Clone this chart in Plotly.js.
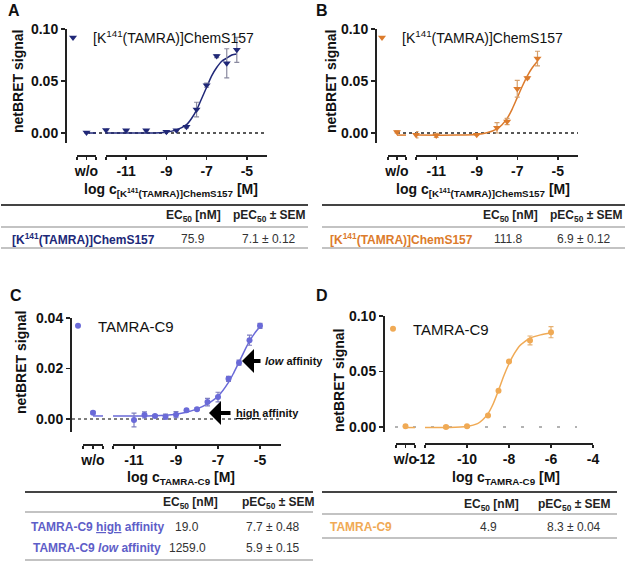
<!DOCTYPE html>
<html>
<head>
<meta charset="utf-8">
<script src="https://cdn.plot.ly/plotly-3.0.1.min.js"></script>
<style>html,body{margin:0;padding:0;background:#fff;}#chart{width:630px;height:562px;}</style>
</head>
<body>
<div id="chart"></div>
<script>
// ---------------- DATA ----------------
// Panel A: [K141(TAMRA)]ChemS157 (navy)
const A_logc = [-12, -11, -10, -9, -8.5, -8, -7.5, -7, -6.5, -6, -5.5];
const A_signal = [0.003, 0.0026, 0.0026, 0.0013, 0.0026, 0.006, 0.0226, 0.046, 0.074, 0.067, 0.080];
const A_err = [0.0008, 0.0006, 0.0006, 0.0006, 0.0006, 0.001, 0.007, 0.002, 0.0015, 0.014, 0.012];
const A_wo = [0.0006];
const A_wo_err = [0.0005];
const A_fit_logc = [-12, -10, -9, -8.5, -8, -7.75, -7.5, -7.25, -7, -6.75, -6.5, -6.25, -6, -5.75, -5.5];
const A_fit = [0, 0, 0.0008, 0.003, 0.008, 0.014, 0.022, 0.033, 0.044, 0.055, 0.063, 0.069, 0.072, 0.075, 0.076];
const A_fit_wo = [0, 0];

// Panel B: [K141(TAMRA)]ChemS157 (orange)
const B_logc = [-12, -11, -9, -8, -7.5, -7, -6.5, -6];
const B_signal = [-0.0016, -0.0023, -0.0016, 0.005, 0.011, 0.0426, 0.053, 0.0716];
const B_err = [0.003, 0.002, 0.0008, 0.005, 0.003, 0.008, 0.001, 0.007];
const B_wo = [0.001];
const B_wo_err = [0.001];
const B_fit_logc = [-12, -10, -9, -8.5, -8, -7.75, -7.5, -7.25, -7, -6.75, -6.5, -6.25, -6];
const B_fit = [-0.002, -0.002, -0.0014, 0.0002, 0.004, 0.008, 0.014, 0.023, 0.034, 0.045, 0.055, 0.063, 0.069];
const B_fit_wo = [-0.002, -0.002];

// Panel C: TAMRA-C9 (periwinkle)
const C_logc = [-11, -10.5, -10, -9.5, -9, -8.5, -8, -7.5, -7, -6.5, -6, -5.5, -5];
const C_signal = [-0.0004, 0.0016, 0.0012, 0.0009, 0.0017, 0.0035, 0.0039, 0.0067, 0.0087, 0.0159, 0.0223, 0.0312, 0.0369];
const C_err = [0.0027, 0.0012, 0.0005, 0.0010, 0.0012, 0.0004, 0.0005, 0.0015, 0.0019, 0.0010, 0.0010, 0.0020, 0.0010];
const C_wo = [0.0025];
const C_wo_err = [0.0005];
const C_fit_logc = [-12, -11, -10, -9.5, -9, -8.5, -8, -7.5, -7, -6.5, -6.25, -6, -5.75, -5.5, -5.25, -5];
const C_fit = [0.0012, 0.0012, 0.0013, 0.0015, 0.0019, 0.0027, 0.0040, 0.0060, 0.0090, 0.0145, 0.0183, 0.0225, 0.0268, 0.0308, 0.0340, 0.0365];
const C_fit_wo = [0.0012, 0.0012];

// Panel D: TAMRA-C9 (light orange)
const D_logc = [-11, -10, -9, -8.5, -8, -7, -6];
const D_signal = [0.0, 0.0006, 0.0104, 0.0327, 0.059, 0.078, 0.0854];
const D_err = [0.0012, 0.0006, 0.0006, 0.0006, 0.0006, 0.004, 0.005];
const D_wo = [0.0006];
const D_wo_err = [0.0005];
const D_fit_logc = [-12, -11, -10, -9.5, -9.25, -9, -8.75, -8.5, -8.25, -8, -7.75, -7.5, -7.25, -7, -6.5, -6];
const D_fit = [-0.0005, -0.0004, 0.0005, 0.003, 0.0065, 0.012, 0.021, 0.033, 0.046, 0.057, 0.066, 0.073, 0.077, 0.080, 0.083, 0.085];
const D_fit_wo = [-0.0005, -0.0005];

// Tick labels
const xTicksABC = [-12, -11, -9, -7, -5];
const xTickTextABC = ['', '-11', '-9', '-7', '-5'];
const xTicksD = [-12, -10, -8, -6, -4];
const xTickTextD = ['-12', '-10', '-8', '-6', '-4'];
const woTicks = [-1, 0, 1];
const woTickText = ['', 'w/o', ''];
const yTicksAB = [0, 0.05, 0.10];
const yTickTextAB = ['0.00', '0.05', '0.10'];
const yTicksC = [0, 0.02, 0.04];
const yTickTextC = ['0.00', '0.02', '0.04'];
const yTicksD = [0, 0.05, 0.10];
const yTickTextD = ['0.00', '0.05', '0.10'];

// Table values
const tableA = {label: '[K<sup>141</sup>(TAMRA)]ChemS157', ec50: '75.9', pec50: '7.1 ± 0.12'};
const tableB = {label: '[K<sup>141</sup>(TAMRA)]ChemS157', ec50: '111.8', pec50: '6.9 ± 0.12'};
const tableC = [
  {label: 'TAMRA-C9 <span style="text-decoration:underline">high</span> affinity', ec50: '19.0', pec50: '7.7 ± 0.48'},
  {label: 'TAMRA-C9 <i>low</i> affinity', ec50: '1259.0', pec50: '5.9 ± 0.15'}
];
const tableD = {label: 'TAMRA-C9', ec50: '4.9', pec50: '8.3 ± 0.04'};

// ---------------- STYLE / LAYOUT ----------------
const W = 630, H = 562;
const fx = x => x / W;
const fy = y => 1 - y / H;
const FONT = 'Arial, "Liberation Sans", sans-serif';

const colA = '#202878', colB = '#dc7b2c', colC = '#6a6ad8', colD = '#f0aa55';
const errA = '#8a8aa0', errB = '#d6a06c', errC = '#7f7fc0', errD = '#e6b070';

function pts(x, y, err, col, ecol, xa, ya, symbol, size, name, legend, show) {
  return {x: x, y: y, type: 'scatter', mode: 'markers', xaxis: xa, yaxis: ya, name: name,
    legend: legend, showlegend: show, cliponaxis: false,
    marker: {color: col, symbol: symbol, size: size},
    error_y: {type: 'data', array: err, visible: true, color: ecol, thickness: 1.2, width: 2.5}};
}
function fit(x, y, col, xa, ya) {
  return {x: x, y: y, type: 'scatter', mode: 'lines', xaxis: xa, yaxis: ya, showlegend: false,
    hoverinfo: 'skip', cliponaxis: false, line: {color: col, width: 1.5, shape: 'spline', smoothing: 0.8}};
}
const woX = [0];
const woLineX = [0, 1];

const traces = [
  fit(A_fit_logc, A_fit, colA, 'x', 'y'),
  fit(woLineX, A_fit_wo, colA, 'x2', 'y'),
  pts(A_logc, A_signal, A_err, colA, errA, 'x', 'y', 'triangle-down', 7, '[K<sup>141</sup>(TAMRA)]ChemS157', 'legend', true),
  pts(woX, A_wo, A_wo_err, colA, errA, 'x2', 'y', 'triangle-down', 7, 'w/o', 'legend', false),

  fit(B_fit_logc, B_fit, colB, 'x3', 'y2'),
  fit(woLineX, B_fit_wo, colB, 'x4', 'y2'),
  pts(B_logc, B_signal, B_err, colB, errB, 'x3', 'y2', 'triangle-down', 7, '[K<sup>141</sup>(TAMRA)]ChemS157', 'legend2', true),
  pts(woX, B_wo, B_wo_err, colB, errB, 'x4', 'y2', 'triangle-down', 7, 'w/o', 'legend2', false),

  fit(C_fit_logc, C_fit, colC, 'x5', 'y3'),
  fit(woLineX, C_fit_wo, colC, 'x6', 'y3'),
  pts(C_logc, C_signal, C_err, colC, errC, 'x5', 'y3', 'circle', 6, 'TAMRA-C9', 'legend3', true),
  pts(woX, C_wo, C_wo_err, colC, errC, 'x6', 'y3', 'circle', 6, 'w/o', 'legend3', false),

  fit(D_fit_logc, D_fit, colD, 'x7', 'y4'),
  fit(woLineX, D_fit_wo, colD, 'x8', 'y4'),
  pts(D_logc, D_signal, D_err, colD, errD, 'x7', 'y4', 'circle', 6, 'TAMRA-C9', 'legend4', true),
  pts(woX, D_wo, D_wo_err, colD, errD, 'x8', 'y4', 'circle', 6, 'w/o', 'legend4', false)
];

const tickFont = {family: FONT, size: 14, color: '#111', weight: 'bold'};
function xAx(l, r, ybase, range, tv, tt) {
  return {domain: [fx(l), fx(r)], anchor: 'free', position: fy(ybase), range: range,
    tickmode: 'array', tickvals: tv, ticktext: tt, ticks: 'outside', ticklen: 3, tickwidth: 1.5,
    tickcolor: '#222', showline: true, linecolor: '#222', linewidth: 1.5, showgrid: false,
    zeroline: false, tickfont: tickFont, fixedrange: true};
}
function yAx(top, bottom, xpos, range, tv, tt) {
  return {domain: [fy(bottom), fy(top)], anchor: 'free', position: fx(xpos), range: range,
    tickmode: 'array', tickvals: tv, ticktext: tt, ticks: 'outside', ticklen: 4, tickwidth: 1.5,
    tickcolor: '#222', showline: true, linecolor: '#222', linewidth: 1.5, showgrid: false,
    zeroline: false, tickfont: tickFont, fixedrange: true};
}
function legendAt(x, y, size) {
  return {x: fx(x), y: fy(y), xanchor: 'left', yanchor: 'middle', bgcolor: 'rgba(0,0,0,0)',
    borderwidth: 0, font: {family: FONT, size: size, color: '#111'}, itemwidth: 30, tracegroupgap: 0};
}

const annotations = [];
const shapes = [];
function txt(x, y, text, opts) {
  annotations.push(Object.assign({xref: 'paper', yref: 'paper', x: fx(x), y: fy(y), text: text,
    showarrow: false, xanchor: 'center', yanchor: 'middle',
    font: {family: FONT, size: 12, color: '#222'}}, opts || {}));
}
function hline(x0, x1, y, w, c) {
  shapes.push({type: 'line', xref: 'paper', yref: 'paper', x0: fx(x0), x1: fx(x1), y0: fy(y), y1: fy(y),
    line: {color: c, width: w}});
}
function dotted(x0, x1, yref, dash, c, w) {
  shapes.push({type: 'line', xref: 'paper', yref: yref, x0: fx(x0), x1: fx(x1), y0: 0, y1: 0,
    line: {color: c, width: w, dash: dash}, layer: 'below'});
}

// Panel letters
const letterFont = {family: FONT, size: 16, color: '#111', weight: 'bold'};
txt(14, 11, '<b>A</b>', {font: letterFont});
txt(322, 11, '<b>B</b>', {font: letterFont});
txt(16, 295, '<b>C</b>', {font: letterFont});
txt(322, 295, '<b>D</b>', {font: letterFont});

// Y titles
const titleFont = {family: FONT, size: 14, color: '#111'};
txt(18, 82, '<b>netBRET signal</b>', {textangle: -90, font: titleFont});
txt(331, 82, '<b>netBRET signal</b>', {textangle: -90, font: titleFont});
txt(21, 363, '<b>netBRET signal</b>', {textangle: -90, font: titleFont});
txt(339, 381, '<b>netBRET signal</b>', {textangle: -90, font: titleFont});

// X titles
txt(171, 190, '<b>log c<sub>[K<sup>141</sup>(TAMRA)]ChemS157</sub> [M]</b>', {font: titleFont});
txt(483, 190, '<b>log c<sub>[K<sup>141</sup>(TAMRA)]ChemS157</sub> [M]</b>', {font: titleFont});
txt(181, 478, '<b>log c<sub>TAMRA-C9</sub> [M]</b>', {font: titleFont});
txt(506, 478, '<b>log c<sub>TAMRA-C9</sub> [M]</b>', {font: titleFont});

// Zero reference lines
dotted(87, 267, 'y', 'dot', '#222', 1.3);
dotted(397, 578, 'y2', 'dot', '#222', 1.3);
dotted(72, 281, 'y3', 'dot', '#555', 1.3);
dotted(395, 577, 'y4', '3px,15px', '#999', 1.3);

// Arrows in C
annotations.push({xref: 'paper', yref: 'paper', x: fx(242), y: fy(361), ax: 20, ay: 0, text: '',
  showarrow: true, arrowhead: 1, arrowsize: 1, arrowwidth: 4, arrowcolor: '#000'});
annotations.push({xref: 'paper', yref: 'paper', x: fx(209), y: fy(413), ax: 23, ay: 0, text: '',
  showarrow: true, arrowhead: 1, arrowsize: 1, arrowwidth: 4, arrowcolor: '#000'});
txt(263, 361, '<b><i>low</i> affinity</b>', {xanchor: 'left', font: {family: FONT, size: 11, color: '#111'}});
txt(234, 413, '<b><span style="text-decoration:underline">high</span> affinity</b>', {xanchor: 'left', font: {family: FONT, size: 11, color: '#111'}});

// Tables
const hdrFont = {family: FONT, size: 12, color: '#222'};
const valFont = {family: FONT, size: 12, color: '#333'};
// A
hline(1, 308, 205, 1.8, '#444'); hline(1, 308, 227, 1.2, '#888'); hline(1, 308, 248, 1.2, '#888');
txt(193, 216, '<b>EC<sub>50</sub> [nM]</b>', {font: hdrFont});
txt(269, 216, '<b>pEC<sub>50</sub> ± SEM</b>', {font: hdrFont});
txt(10, 239, '<b>' + tableA.label + '</b>', {xanchor: 'left', font: {family: FONT, size: 12, color: colA}});
txt(193, 239, tableA.ec50, {font: valFont});
txt(269, 239, tableA.pec50, {font: valFont});
// B
hline(322, 625, 205, 1.8, '#444'); hline(322, 625, 227, 1.2, '#888'); hline(322, 625, 248, 1.2, '#888');
txt(510, 216, '<b>EC<sub>50</sub> [nM]</b>', {font: hdrFont});
txt(586, 216, '<b>pEC<sub>50</sub> ± SEM</b>', {font: hdrFont});
txt(328, 239, '<b>' + tableB.label + '</b>', {xanchor: 'left', font: {family: FONT, size: 12, color: colB}});
txt(508, 239, tableB.ec50, {font: valFont});
txt(584, 239, tableB.pec50, {font: valFont});
// C
hline(25, 313, 492, 1.8, '#444'); hline(25, 313, 512, 1.2, '#888'); hline(25, 313, 560, 1.2, '#888');
txt(190, 503, '<b>EC<sub>50</sub> [nM]</b>', {font: hdrFont});
txt(278, 503, '<b>pEC<sub>50</sub> ± SEM</b>', {font: hdrFont});
txt(97, 527, '<b>' + tableC[0].label + '</b>', {font: {family: FONT, size: 12, color: '#5e5ec8'}});
txt(187, 527, tableC[0].ec50, {font: valFont});
txt(273, 527, tableC[0].pec50, {font: valFont});
txt(97, 548, '<b>' + tableC[1].label + '</b>', {font: {family: FONT, size: 12, color: '#5e5ec8'}});
txt(187, 548, tableC[1].ec50, {font: valFont});
txt(273, 548, tableC[1].pec50, {font: valFont});
// D
hline(322, 617, 492, 1.8, '#444'); hline(322, 617, 514, 1.2, '#888'); hline(322, 617, 538, 1.2, '#888');
txt(491, 505, '<b>EC<sub>50</sub> [nM]</b>', {font: hdrFont});
txt(574, 505, '<b>pEC<sub>50</sub> ± SEM</b>', {font: hdrFont});
txt(328, 527, '<b>' + tableD.label + '</b>', {xanchor: 'left', font: {family: FONT, size: 12, color: colD}});
txt(488, 527, tableD.ec50, {font: valFont});
txt(574, 527, tableD.pec50, {font: valFont});

const layout = {
  width: W, height: H, margin: {l: 0, r: 0, t: 0, b: 0},
  paper_bgcolor: '#fff', plot_bgcolor: 'rgba(0,0,0,0)',
  font: {family: FONT, color: '#111'},
  showlegend: true,
  xaxis:  xAx(106, 267, 155, [-12, -4], xTicksABC, xTickTextABC),
  xaxis2: xAx(77, 96, 155, [-1, 1], woTicks, woTickText),
  xaxis3: xAx(416, 578, 155, [-12, -4], xTicksABC, xTickTextABC),
  xaxis4: xAx(388, 406, 155, [-1, 1], woTicks, woTickText),
  xaxis5: xAx(113, 281, 444, [-12, -4], xTicksABC, xTickTextABC),
  xaxis6: xAx(83, 103, 444, [-1, 1], woTicks, woTickText),
  xaxis7: xAx(425, 593, 443, [-12, -4], xTicksD, xTickTextD),
  xaxis8: xAx(396, 415, 443, [-1, 1], woTicks, woTickText),
  yaxis:  yAx(29, 143, 65, [-0.0096, 0.10], yTicksAB, yTickTextAB),
  yaxis2: yAx(29, 143, 375, [-0.0096, 0.10], yTicksAB, yTickTextAB),
  yaxis3: yAx(318, 432, 70, [-0.00515, 0.04], yTicksC, yTickTextC),
  yaxis4: yAx(316, 432, 383, [-0.0045, 0.10], yTicksD, yTickTextD),
  legend:  legendAt(53, 38, 14),
  legend2: legendAt(362, 38, 14),
  legend3: legendAt(58, 326, 15),
  legend4: legendAt(373, 329, 15),
  annotations: annotations,
  shapes: shapes
};

Plotly.newPlot('chart', traces, layout, {staticPlot: true, displayModeBar: false});
</script>
</body>
</html>
